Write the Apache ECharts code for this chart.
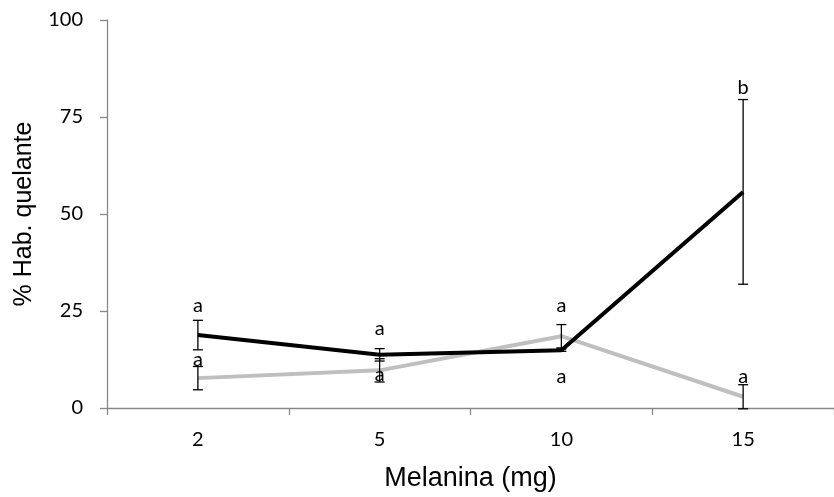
<!DOCTYPE html>
<html>
<head>
<meta charset="utf-8">
<script src="https://cdn.jsdelivr.net/npm/echarts@6/dist/echarts.min.js"></script>
<style>
  html, body { margin: 0; padding: 0; background: #fff; }
  #chart { width: 834px; height: 497px; }
</style>
</head>
<body>
<div id="chart"></div>
<script>
// Melanin dose (mg)
const doses = ['2', '5', '10', '15'];
const yTicks = [0, 25, 50, 75, 100];

// Chelating ability (%), mean and error
const blackMean = [18.8, 13.7, 14.9, 55.7];
const blackErr  = [3.8, 1.6, 0.3, 23.8];
const greyMean  = [7.7, 9.7, 18.5, 2.9];
const greyErr   = [3.0, 3.0, 3.0, 3.1];

// Significance letters and the value at which each is anchored
const blackLetters  = ['a', 'a', 'a', 'b'];
const blackLetterAt = [26.5, 20.5, 26.5, 82.5];
const greyLetters   = ['a', 'a', 'a', 'a'];
const greyLetterAt  = [12.5, 8.5, 8, 8];

const tickFont = 'Lato, "Noto Sans", sans-serif';
const titleFont = '"Liberation Sans", Arial, sans-serif';

const chart = echarts.init(document.getElementById('chart'));

function errorBars(means, errs) {
  return {
    type: 'custom',
    z: 5,
    data: means.map((m, i) => [i, m - errs[i], m + errs[i]]),
    renderItem: function (params, api) {
      const x = api.value(0);
      const lo = api.coord([x, api.value(1)]);
      const hi = api.coord([x, api.value(2)]);
      const hw = 5;
      const st = { stroke: '#000', lineWidth: 1.3 };
      return {
        type: 'group',
        children: [
          { type: 'line', shape: { x1: hi[0], y1: hi[1], x2: lo[0], y2: lo[1] }, style: st },
          { type: 'line', shape: { x1: hi[0] - hw, y1: hi[1], x2: hi[0] + hw, y2: hi[1] }, style: st },
          { type: 'line', shape: { x1: lo[0] - hw, y1: lo[1], x2: lo[0] + hw, y2: lo[1] }, style: st }
        ]
      };
    }
  };
}

function letters(texts, at) {
  return {
    type: 'custom',
    z: 6,
    data: at.map((v, i) => [i, v]),
    renderItem: function (params, api) {
      const p = api.coord([api.value(0), api.value(1)]);
      return {
        type: 'text',
        x: p[0], y: p[1],
        style: {
          text: texts[params.dataIndex],
          fill: '#000',
          font: '20px ' + tickFont,
          align: 'center',
          verticalAlign: 'middle'
        }
      };
    }
  };
}

chart.setOption({
  animation: false,
  backgroundColor: '#fff',
  grid: { left: 107, top: 20, bottom: 89, right: -9, containLabel: false },
  xAxis: {
    type: 'category',
    data: doses,
    boundaryGap: true,
    name: 'Melanina (mg)',
    nameLocation: 'middle',
    nameGap: 57,
    nameTextStyle: { fontFamily: titleFont, fontSize: 27, color: '#000' },
    axisLine: { lineStyle: { color: '#888', width: 1.3 } },
    axisTick: { show: true, length: 7, alignWithLabel: false, lineStyle: { color: '#888', width: 1.3 } },
    axisLabel: { color: '#000', fontFamily: tickFont, fontSize: 20, margin: 22 },
    splitLine: { show: false }
  },
  yAxis: {
    type: 'value',
    min: yTicks[0],
    max: yTicks[yTicks.length - 1],
    interval: 25,
    name: '% Hab. quelante',
    nameLocation: 'middle',
    nameGap: 70,
    nameRotate: 90,
    nameTextStyle: { fontFamily: titleFont, fontSize: 25, color: '#000' },
    axisLine: { show: true, lineStyle: { color: '#888', width: 1.3 } },
    axisTick: { show: true, length: 7, lineStyle: { color: '#888', width: 1.3 } },
    axisLabel: { color: '#000', fontFamily: tickFont, fontSize: 20, margin: 24 },
    splitLine: { show: false }
  },
  series: [
    {
      type: 'line',
      data: greyMean,
      symbol: 'none',
      z: 3,
      lineStyle: { color: '#bfbfbf', width: 4 }
    },
    {
      type: 'line',
      data: blackMean,
      symbol: 'none',
      z: 4,
      lineStyle: { color: '#000', width: 4 }
    },
    errorBars(greyMean, greyErr),
    errorBars(blackMean, blackErr),
    letters(blackLetters, blackLetterAt),
    letters(greyLetters, greyLetterAt)
  ]
});
</script>
</body>
</html>
